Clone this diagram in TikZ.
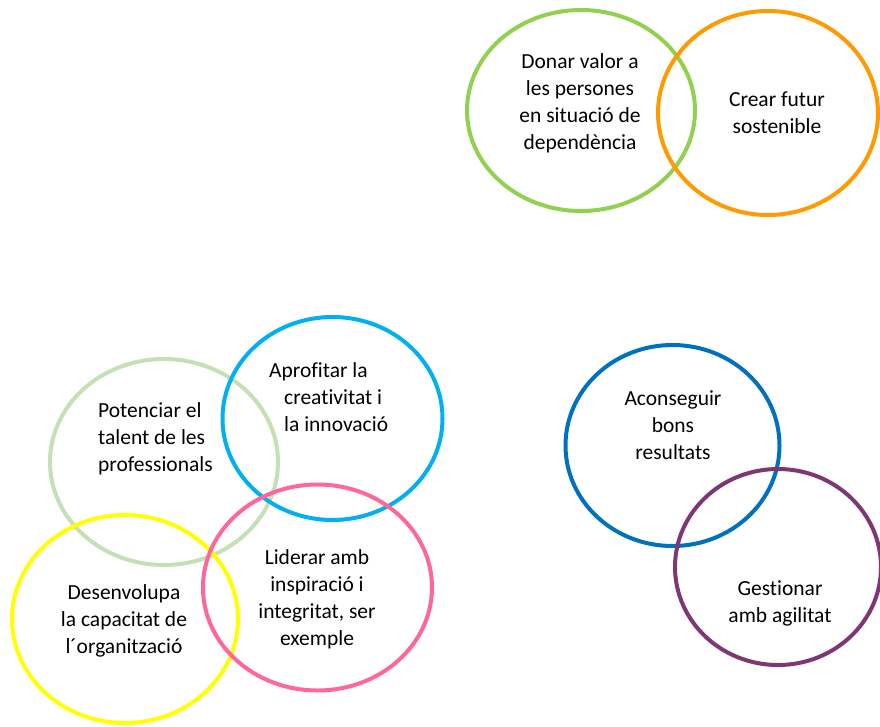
\documentclass[tikz,border=0pt]{standalone}
\usepackage{fontspec}
\setmainfont[Ligatures=NoCommon]{Carlito}
\definecolor{cgreen}{HTML}{92D050}
\definecolor{corange}{HTML}{FF9A00}
\definecolor{clgreen}{HTML}{C5E0B4}
\definecolor{ccyan}{HTML}{00B0F0}
\definecolor{cyellow}{HTML}{FFFF00}
\definecolor{cpink}{HTML}{FF6699}
\definecolor{cblue}{HTML}{0070C0}
\definecolor{cpurple}{HTML}{7F3674}
\begin{document}
\begin{tikzpicture}[x=1pt,y=-1pt,
  ring/.style={line width=4pt},
  lbl/.style={font=\fontsize{21.5}{27}\selectfont, inner sep=0pt, text=black}]
\useasboundingbox (0,0) rectangle (880,726);
% ellipses
\draw[ring,cgreen] (581,110.5) ellipse [x radius=114, y radius=100.5];
\draw[ring,corange] (768,113) ellipse [x radius=110, y radius=102];
\draw[ring,clgreen] (164,462) ellipse [x radius=114, y radius=103];
\draw[ring,ccyan] (332.5,418.5) ellipse [x radius=110, y radius=101.5];
\draw[ring,cyellow] (125,619) ellipse [x radius=113, y radius=104];
\draw[ring,cpink] (317.5,587.5) ellipse [x radius=114.5, y radius=103];
\draw[ring,cblue] (672.5,445.5) ellipse [x radius=107, y radius=100.5];
\draw[ring,cpurple] (778,567) ellipse [x radius=103, y radius=98];
% labels
\node[lbl, align=center] (t1) at (580,103) {Donar valor a\\les persones\\en situació de\\dependència};
\node[lbl, align=center] (t2) at (777,113) {Crear futur\\sostenible};
\node[lbl, align=left, anchor=west] (t3) at (98,438.5) {Potenciar el\\talent de les\\professionals};
\node[lbl, align=left, anchor=west] (t4) at (284,397) {\hspace*{-15pt}Aprofitar la\\creativitat i\\la innovació};
\node[lbl, align=center] (t5) at (317,599) {Liderar amb\\inspiració i\\integritat, ser\\exemple};
\node[lbl, align=center] (t6) at (124,620.5) {Desenvolupa\\la capacitat de\\l´organització};
\node[lbl, align=center] (t7) at (673,425.5) {Aconseguir\\bons\\resultats};
\node[lbl, align=center] (t8) at (780,603.5) {Gestionar\\amb agilitat};
\end{tikzpicture}
\end{document}
